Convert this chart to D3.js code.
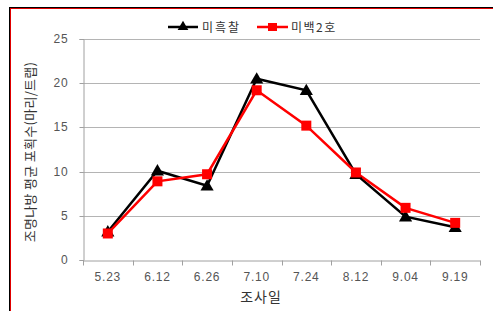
<!DOCTYPE html>
<html>
<head>
<meta charset="utf-8">
<script src="https://cdn.jsdelivr.net/npm/d3@7"></script>
<style>
  body { margin: 0; background: #fff; }
  svg { display: block; }
  .tick text { font-family: "Liberation Sans", Arial, sans-serif; font-size: 12px; fill: #555; letter-spacing: 0.8px; }
  .kr { font-family: "Noto Sans CJK KR", sans-serif; }
</style>
</head>
<body>
<div id="graph"></div>
<script>
// chart values
const dates = ["5.23", "6.12", "6.26", "7.10", "7.24", "8.12", "9.04", "9.19"];
const miheukchal = [3.2, 10.1, 8.4, 20.5, 19.2, 9.7, 4.9, 3.7];
const mibaek2 = [3.0, 8.9, 9.7, 19.2, 15.2, 9.9, 5.9, 4.2];
const yTicks = [0, 5, 10, 15, 20, 25];
const seriesNames = ["미흑찰", "미백2호"];

document.addEventListener('DOMContentLoaded', () => {
  let width = 493, height = 311;
  let left = 83, right = 480, top = 39, bottom = 260;

  let svg = d3.select("#graph").append("svg").attr("width", width).attr("height", height);

  // frame: black outer line, red inner line
  svg.append("rect").attr("x", 9.5).attr("y", 7.5).attr("width", 500).attr("height", 320)
    .attr("fill", "none").attr("stroke", "#000").attr("stroke-width", 1);
  svg.append("rect").attr("x", 10.5).attr("y", 8.5).attr("width", 500).attr("height", 320)
    .attr("fill", "none").attr("stroke", "#e00000").attr("stroke-width", 1);

  let x = d3.scaleBand().domain(dates).range([left, right]);
  let y = d3.scaleLinear().domain([0, 25]).range([bottom, top]);

  // grid lines
  svg.append("g").selectAll("line").data(yTicks.filter(d => d > 0)).enter().append("line")
    .attr("x1", left).attr("x2", right)
    .attr("y1", d => Math.round(y(d)) + 0.5).attr("y2", d => Math.round(y(d)) + 0.5)
    .attr("stroke", "#b4b4b4").attr("stroke-width", 1);

  let yAxis = d3.axisLeft(y).tickValues(yTicks).tickSize(4).tickPadding(11);
  let yg = svg.append("g").attr("transform", "translate(" + (left + 0.5) + ",0)").call(yAxis);
  yg.select(".domain").attr("stroke", "#a0a0a0");
  yg.selectAll(".tick line").attr("stroke", "#a0a0a0");
  yg.selectAll(".tick").attr("transform", d => "translate(0," + (Math.round(y(d)) + 0.5) + ")");

  let xAxis = d3.axisBottom(x).tickSize(0).tickPadding(12);
  let xg = svg.append("g").attr("transform", "translate(0," + (bottom + 0.5) + ")").call(xAxis);
  xg.select(".domain").attr("stroke", "#a0a0a0");
  // category boundary ticks
  xg.selectAll(".bnd").data(dates.concat(["end"])).enter().append("line")
    .attr("x1", (d, i) => Math.round(left + i * x.step()) + 0.5)
    .attr("x2", (d, i) => Math.round(left + i * x.step()) + 0.5)
    .attr("y1", 0).attr("y2", 5).attr("stroke", "#a0a0a0");

  let cx = d => x(d) + x.bandwidth() / 2;
  let line = d3.line().x(d => cx(d.date)).y(d => y(d.v));

  let s1 = dates.map((d, i) => ({date: d, v: miheukchal[i]}));
  let s2 = dates.map((d, i) => ({date: d, v: mibaek2[i]}));

  svg.append("path").datum(s1).attr("d", line).attr("fill", "none")
    .attr("stroke", "#000").attr("stroke-width", 2.5);
  svg.append("path").datum(s2).attr("d", line).attr("fill", "none")
    .attr("stroke", "#ff0000").attr("stroke-width", 2.5);

  let tri = d3.symbol().type(d3.symbolTriangle).size(75);
  svg.selectAll(".tri").data(s1).enter().append("path")
    .attr("d", tri).attr("transform", d => "translate(" + cx(d.date) + "," + (y(d.v) + 1) + ")")
    .attr("fill", "#000");
  svg.selectAll(".sq").data(s2).enter().append("rect")
    .attr("x", d => cx(d.date) - 5).attr("y", d => y(d.v) - 5)
    .attr("width", 10).attr("height", 10).attr("fill", "#ff0000");

  // axis titles
  svg.append("text").attr("class", "kr").attr("x", 261).attr("y", 302)
    .attr("text-anchor", "middle").attr("font-size", 14).attr("letter-spacing", 1)
    .attr("fill", "#333").text("조사일");
  svg.append("text").attr("class", "kr").attr("transform", "translate(35,152) rotate(-90)")
    .attr("text-anchor", "middle").attr("font-size", 13).attr("letter-spacing", 0.3)
    .attr("fill", "#333").text("조명나방 평균 포획수(마리/트랩)");

  // legend
  let lg = svg.append("g").attr("transform", "translate(168,27)");
  lg.append("line").attr("x1", 0).attr("x2", 30).attr("y1", 0).attr("y2", 0)
    .attr("stroke", "#000").attr("stroke-width", 2.5);
  lg.append("path").attr("d", d3.symbol().type(d3.symbolTriangle).size(50))
    .attr("transform", "translate(15,0)").attr("fill", "#000");
  lg.append("text").attr("class", "kr").attr("x", 34).attr("y", 5)
    .attr("font-size", 12).attr("letter-spacing", 2).attr("fill", "#333").text(seriesNames[0]);
  lg.append("line").attr("x1", 89).attr("x2", 120).attr("y1", 0).attr("y2", 0)
    .attr("stroke", "#ff0000").attr("stroke-width", 2.5);
  lg.append("rect").attr("x", 100).attr("y", -4).attr("width", 9).attr("height", 8).attr("fill", "#ff0000");
  lg.append("text").attr("class", "kr").attr("x", 123).attr("y", 5)
    .attr("font-size", 12).attr("letter-spacing", 1.5).attr("fill", "#333").text(seriesNames[1]);
});
</script>
</body>
</html>
